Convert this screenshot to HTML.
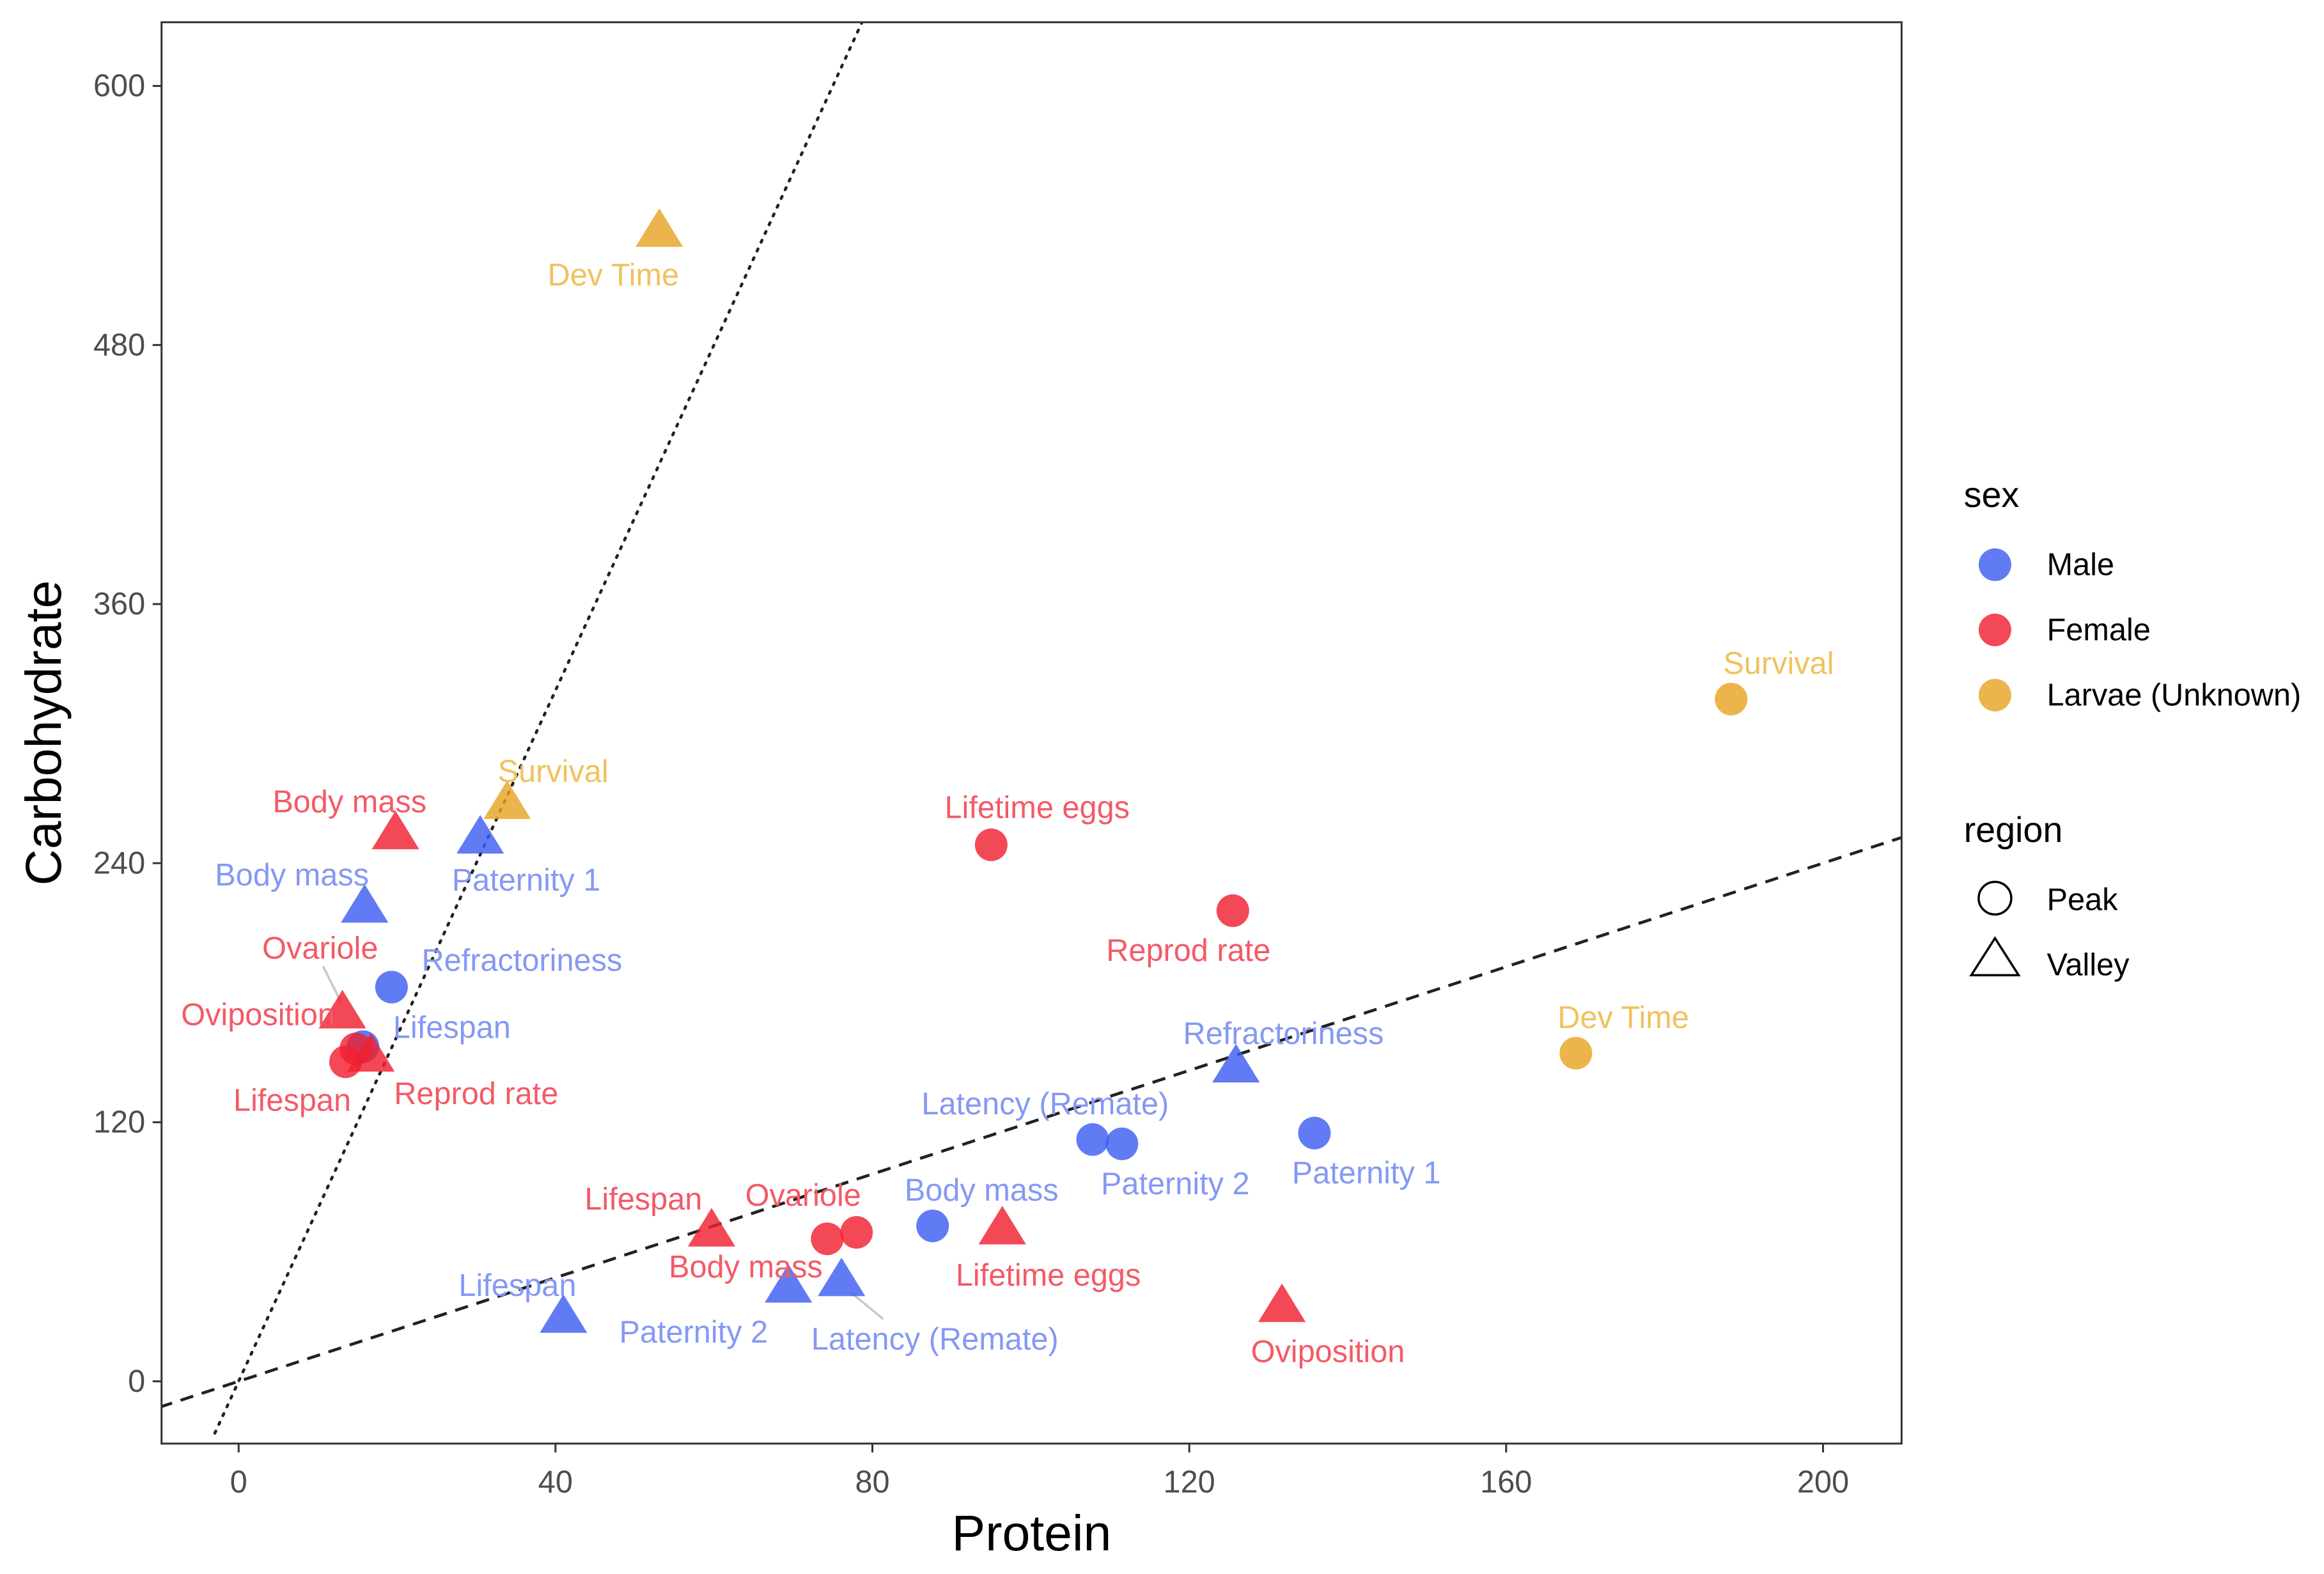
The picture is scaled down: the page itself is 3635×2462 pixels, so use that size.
<!DOCTYPE html>
<html><head><meta charset="utf-8">
<style>
html,body{margin:0;padding:0;background:#fff;}
svg{display:block;font-family:"Liberation Sans",Arial,sans-serif;}
</style></head>
<body>
<svg id="chart" width="3635" height="2462" viewBox="0 0 1568 1062" xmlns="http://www.w3.org/2000/svg">
<rect x="0" y="0" width="1568" height="1062" fill="#fff"/>
<g id="plot"></g>
</svg>
<script>
const xTicks=[0,40,80,120,160,200];
const yTicks=[0,120,240,360,480,600];
// Male
const maleNames=["Refractoriness","Lifespan","Body mass","Latency (Remate)","Paternity 2","Paternity 1","Body mass","Paternity 1","Lifespan","Paternity 2","Latency (Remate)","Refractoriness"];
const maleRegion=["Peak","Peak","Peak","Peak","Peak","Peak","Valley","Valley","Valley","Valley","Valley","Valley"];
const maleProtein=[19.3,15.7,87.6,107.8,111.5,135.8,15.9,30.5,41,69.4,76.1,125.9];
const maleCarb=[182.6,155,72,112,110,115,220,252,30,44,47,146];
// Female
const femaleNames=["Lifetime eggs","Reprod rate","Body mass","Ovariole","Lifespan","Oviposition","Body mass","Ovariole","Reprod rate","Lifespan","Lifetime eggs","Oviposition"];
const femaleRegion=["Peak","Peak","Peak","Peak","Peak","Peak","Valley","Valley","Valley","Valley","Valley","Valley"];
const femaleProtein=[95,125.5,74.3,78,13.5,14.8,19.8,13.1,16.7,59.7,96.4,131.7];
const femaleCarb=[248.5,218,66,69,148,154,254,171,151,70,71,35];
// Larvae
const larvaeNames=["Dev Time","Survival","Survival","Dev Time"];
const larvaeRegion=["Valley","Valley","Peak","Peak"];
const larvaeProtein=[53.1,33.9,188.4,168.8];
const larvaeCarb=[533,268,316,152];
// reference lines: carb = slope * protein
const dottedSlope=8;
const dashedSlope=1.2;

const L=109,R=1283,T=15,B=974;
const xs=p=>161+p*5.345;
const ys=c=>932-c*1.4567;
const NS="http://www.w3.org/2000/svg";
const g=document.getElementById('plot');
function mk(tag,attrs,parent){const e=document.createElementNS(NS,tag);for(const k in attrs)e.setAttribute(k,attrs[k]);(parent||g).appendChild(e);return e;}

const maleOff=[[88,-18],[60,-13],[33,-24],[-32,-24],[36,27],[35,27],[-49,-21],[31,29],[-31,-21],[-64,31],[63,40],[32,-22]];
const femaleOff=[[31,-25],[-30,27],[-55,19],[-36,-25],[-36,26],[-66,-23],[-31,-21],[-15,-43],[71,26],[-46,-21],[31,32],[31,31]];
const larvaeOff=[[-31,30],[31,-21],[32,-24],[32,-24]];

const clip=mk('clipPath',{id:'pc'});mk('rect',{x:L,y:T,width:R-L,height:B-T},clip);

const dl=mk('line',{x1:xs(-3),y1:ys(-24),x2:xs(600/dottedSlope+5),y2:ys((600/dottedSlope+5)*dottedSlope),stroke:'#222','stroke-width':2,'stroke-dasharray':'1.5 5','stroke-linecap':'round','clip-path':'url(#pc)'});


const dsl=mk('line',{x1:xs(-10),y1:ys(-10*dashedSlope),x2:xs(210),y2:ys(210*dashedSlope),stroke:'#222','stroke-width':2,'stroke-dasharray':'9 6','clip-path':'url(#pc)'});



// connector segments
const seg1=mk('line',{x1:218,y1:652,x2:230,y2:676,stroke:'#c8c8c8','stroke-width':1.5});


const seg2=mk('line',{x1:574,y1:872,x2:596,y2:890,stroke:'#c8c8c8','stroke-width':1.5});



function drawSeries(names,region,P,C,off,fill,txt,key){
  P.forEach((p,i)=>{
    const x=xs(p),y=ys(C[i]);
    let m;
    if(region[i]==='Peak') m=mk('circle',{cx:x,cy:y,r:11,fill:fill,'fill-opacity':0.82});
    else m=mk('polygon',{points:`${x},${y-15} ${x+16},${y+11} ${x-16},${y+11}`,fill:fill,'fill-opacity':0.82});
    
    
  });
  P.forEach((p,i)=>{
    const x=xs(p),y=ys(C[i]);
    const t=mk('text',{x:x+off[i][0],y:y+off[i][1]+7,'text-anchor':'middle','font-size':21,fill:txt});
    t.textContent=names[i];
    
    
  });
}
drawSeries(maleNames,maleRegion,maleProtein,maleCarb,maleOff,'#3d5ef0','#8498f5','male');
drawSeries(femaleNames,femaleRegion,femaleProtein,femaleCarb,femaleOff,'#f0202f','#f35a66','female');
drawSeries(larvaeNames,larvaeRegion,larvaeProtein,larvaeCarb,larvaeOff,'#e8a424','#f0c25e','larvae');

const fr=mk('rect',{x:L,y:T,width:R-L,height:B-T,fill:'none',stroke:'#333','stroke-width':1.3});



xTicks.forEach(v=>{
  const x=xs(v);
  mk('line',{x1:x,y1:B,x2:x,y2:B+6,stroke:'#333','stroke-width':1.3});
  const t=mk('text',{x:x,y:B+33,'text-anchor':'middle','font-size':21,fill:'#4d4d4d'});
  t.textContent=v;
  
  
});
yTicks.forEach(v=>{
  const y=ys(v);
  mk('line',{x1:L-6,y1:y,x2:L,y2:y,stroke:'#333','stroke-width':1.3});
  const t=mk('text',{x:L-11,y:y+7,'text-anchor':'end','font-size':21,fill:'#4d4d4d'});
  t.textContent=v;
  
  
});
const xt=mk('text',{x:(L+R)/2,y:1046,'text-anchor':'middle','font-size':34,fill:'#000'});
xt.textContent='Protein';


const yt=mk('text',{x:0,y:0,'text-anchor':'middle','font-size':34,fill:'#000',transform:`translate(41,${(T+B)/2}) rotate(-90)`});
yt.textContent='Carbohydrate';



const st=mk('text',{x:1325,y:342,'font-size':24,fill:'#000'});st.textContent='sex';


const sexLabels=['Male','Female','Larvae (Unknown)'];
const sexColors=['#3d5ef0','#f0202f','#e8a424'];
sexLabels.forEach((s,i)=>{
  const y=381+i*44;
  const c=mk('circle',{cx:1346,cy:y,r:11,fill:sexColors[i],'fill-opacity':0.82});
  
  
  const t=mk('text',{x:1381,y:y+7,'font-size':21,fill:'#000'});t.textContent=s;
  
  
});
const rt=mk('text',{x:1325,y:568,'font-size':24,fill:'#000'});rt.textContent='region';


const rc=mk('circle',{cx:1346,cy:606,r:11,fill:'none',stroke:'#000','stroke-width':1.5});


const rtri=mk('polygon',{points:'1346,633 1362,658 1330,658',fill:'none',stroke:'#000','stroke-width':1.5});


const pk=mk('text',{x:1381,y:614,'font-size':21,fill:'#000'});pk.textContent='Peak';


const vl=mk('text',{x:1381,y:658,'font-size':21,fill:'#000'});vl.textContent='Valley';


</script>
</body></html>
